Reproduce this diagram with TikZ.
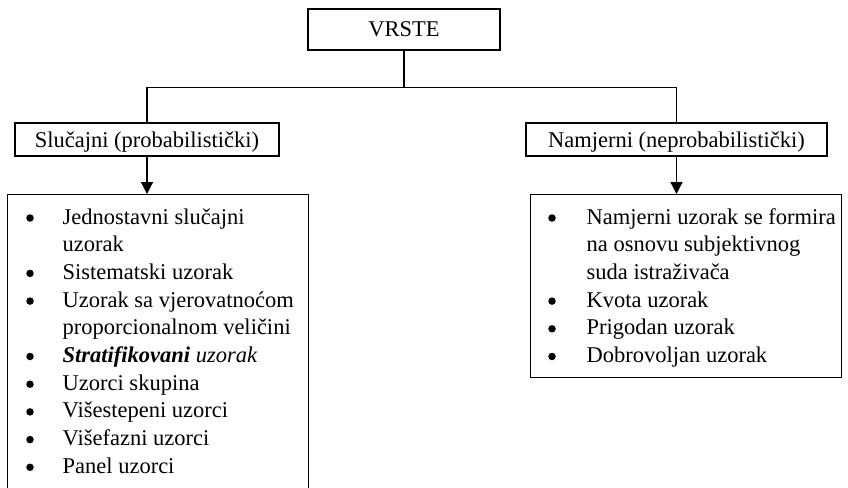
\documentclass[tikz,border=0pt]{standalone}
\usepackage{fontspec}
\setmainfont{Liberation Serif}
\usetikzlibrary{arrows.meta}
\begin{document}
\begin{tikzpicture}[x=1pt,y=-1pt,line width=1.3pt,
  txt/.style={font=\fontsize{22.5}{27.7}\selectfont},
  titlebox/.style={draw,rectangle,txt,inner sep=0pt,text height=15pt,text depth=0pt},
  listbox/.style={draw,rectangle,inner sep=0pt,anchor=north west},
  item/.style={txt,inner sep=0pt,anchor=base west},
  bul/.style={circle,fill,draw=none,inner sep=0pt,minimum size=7.5pt},
  arr/.style={-{Triangle[length=12pt,width=12pt]}}
]
\useasboundingbox (0,0) rectangle (848,487);

% top level
\node[titlebox,minimum width=192pt,minimum height=41pt] (vrste) at (404,29.5) {VRSTE};
\coordinate (bar) at (404,88);

% second level
\node[titlebox,minimum width=264pt,minimum height=33pt] (prob) at (147,139.5) {Slučajni (probabilistički)};
\node[titlebox,minimum width=301pt,minimum height=33pt] (neprob) at (676.5,139.5) {Namjerni (neprobabilistički)};

% list frames
\node[listbox,minimum width=301pt,minimum height=300pt] (plist) at (7,194) {};
\node[listbox,minimum width=311pt,minimum height=183pt] (nlist) at (530,194) {};

% connectors
\draw (vrste.south) -- (bar);
\draw (prob.north) -- ++(0,-35) -| (neprob.north);
\draw[arr] (prob.south) -- (prob.south |- plist.north);
\draw[arr] (neprob.south) -- (neprob.south |- nlist.north);

% probabilistic sampling list
\node[bul] (pb1) at (30,218) {};
\node[item] (pi1) at (62,224) {Jednostavni slučajni};
\node[item] (pi1b) at (62,251.7) {uzorak};
\node[bul] (pb2) at (30,273.4) {};
\node[item] (pi2) at (62,279.4) {Sistematski uzorak};
\node[bul] (pb3) at (30,301.1) {};
\node[item] (pi3) at (62,307.1) {Uzorak sa vjerovatnoćom};
\node[item] (pi3b) at (62,334.8) {proporcionalnom veličini};
\node[bul] (pb4) at (30,356.5) {};
\node[item] (pi4) at (62,362.5) {\textbf{\textit{Stratifikovani}} \textit{uzorak}};
\node[bul] (pb5) at (30,384.2) {};
\node[item] (pi5) at (62,390.2) {Uzorci skupina};
\node[bul] (pb6) at (30,411.9) {};
\node[item] (pi6) at (62,417.9) {Višestepeni uzorci};
\node[bul] (pb7) at (30,439.6) {};
\node[item] (pi7) at (62,445.6) {Višefazni uzorci};
\node[bul] (pb8) at (30,467.3) {};
\node[item] (pi8) at (62,473.3) {Panel uzorci};

% non-probabilistic sampling list
\node[bul] (nb1) at (552,218) {};
\node[item] (ni1) at (586,224) {Namjerni uzorak se formira};
\node[item] (ni1b) at (586,251.7) {na osnovu subjektivnog};
\node[item] (ni1c) at (586,279.4) {suda istraživača};
\node[bul] (nb2) at (552,301.1) {};
\node[item] (ni2) at (586,307.1) {Kvota uzorak};
\node[bul] (nb3) at (552,328.8) {};
\node[item] (ni3) at (586,334.8) {Prigodan uzorak};
\node[bul] (nb4) at (552,356.5) {};
\node[item] (ni4) at (586,362.5) {Dobrovoljan uzorak};
\end{tikzpicture}
\end{document}
